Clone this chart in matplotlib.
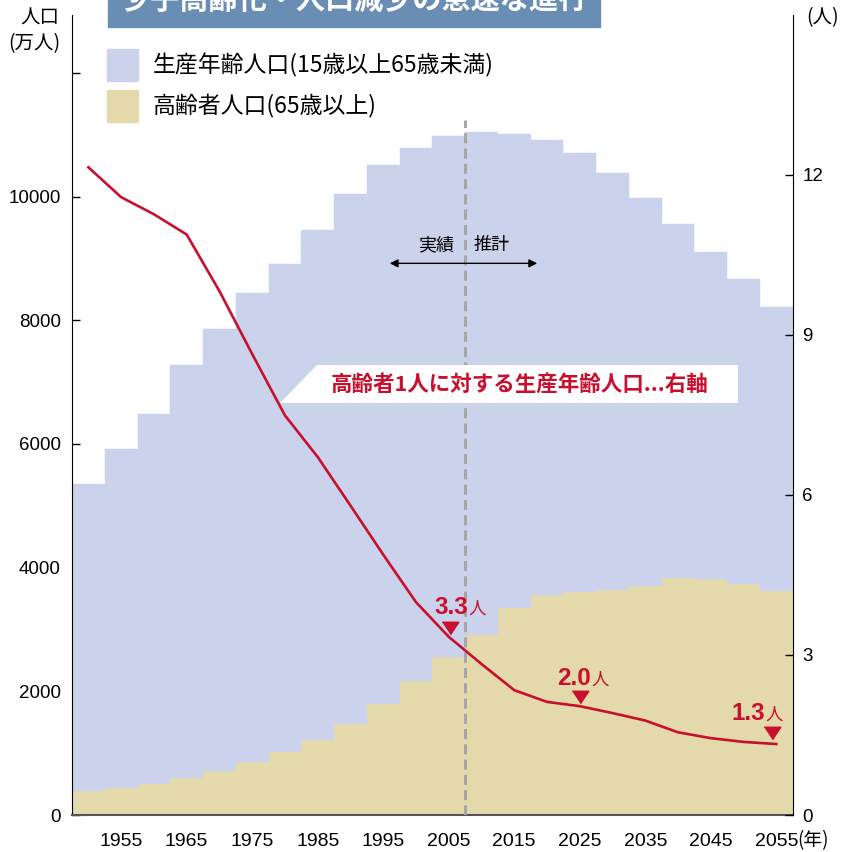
import matplotlib
matplotlib.use('Agg')
import matplotlib.pyplot as plt
from matplotlib.patches import Polygon, Rectangle

plt.rcParams['font.family'] = ['Liberation Sans', 'Noto Sans CJK JP', 'DejaVu Sans']
JP = ['Noto Sans CJK JP', 'DejaVu Sans']

# ---- data (万人 / 人) ----
years = list(range(1950, 2056, 5))
elderly = [383, 443, 507, 593, 706, 857, 1025, 1219, 1471, 1790, 2162, 2550,
           2905, 3347, 3552, 3601, 3638, 3703, 3832, 3811, 3735, 3617]
working = [4964, 5467, 5983, 6678, 7147, 7578, 7890, 8235, 8565, 8715, 8618, 8428,
           8133, 7670, 7357, 7098, 6737, 6268, 5718, 5287, 4926, 4592]
ratio = [12.14, 11.58, 11.26, 10.88, 9.82, 8.64, 7.49, 6.71, 5.80, 4.88, 3.99, 3.34,
         2.83, 2.34, 2.12, 2.04, 1.91, 1.77, 1.55, 1.44, 1.37, 1.33]
xtick_years = list(range(1955, 2056, 10))
left_ticks = [0, 2000, 4000, 6000, 8000, 10000, 12000]
left_tick_labels = ['0', '2000', '4000', '6000', '8000', '10000', '']
right_ticks = [0, 3, 6, 9, 12]
callouts = [(2005, '3.3'), (2025, '2.0'), (2055, '1.3')]

BLUE = '#cad3eb'
TAN = '#e4d9ab'
RED = '#c8102e'
GRAY = '#a6a6a6'

fig = plt.figure(figsize=(8.45, 8.52), dpi=100)
ax = fig.add_axes([72/845, (852-815)/852, 720.7/845, 800.3/852])

ax.bar(years, elderly, width=5, color=TAN, edgecolor=TAN, linewidth=0.3, zorder=2)
ax.bar(years, working, bottom=elderly, width=5, color=BLUE, edgecolor=BLUE,
       linewidth=0.3, zorder=2)

ax.set_xlim(1947.5, 2057.5)
ax.set_ylim(0, 12940)
ax.set_xticks(xtick_years)
ax.set_xticklabels([str(y) for y in xtick_years], family=['Liberation Sans Narrow', 'Liberation Sans'])
ax.set_yticks(left_ticks)
ax.set_yticklabels(left_tick_labels)
ax.tick_params(axis='y', direction='in', length=6, width=1, pad=8, labelsize=13.5)
ax.tick_params(axis='x', length=0, pad=13, labelsize=14)
for s in ['top', 'right']:
    ax.spines[s].set_visible(False)
ax.spines['bottom'].set_color('#555555')
ax.spines['bottom'].set_linewidth(1.5)

# divider between actual and projection
ax.plot([2007.5, 2007.5], [0, 11230], color=GRAY, lw=2.2, dashes=(3.3, 1.7), zorder=3)
ax.annotate('', xy=(1996.0, 8920), xytext=(2018.5, 8920),
            arrowprops=dict(arrowstyle='<|-|>', color='black', lw=1.0,
                            mutation_scale=12, shrinkA=0, shrinkB=0), zorder=4)
ax.text(2003.1, 9210, '実績', ha='center', va='center', fontsize=13, family=JP)
ax.text(2011.6, 9210, '推計', ha='center', va='center', fontsize=13, family=JP)

# legend
ax.add_patch(Rectangle((0.0486, 0.917), 0.043, 0.040, transform=ax.transAxes,
                       color=BLUE, clip_on=False, zorder=5))
ax.add_patch(Rectangle((0.0486, 0.866), 0.043, 0.040, transform=ax.transAxes,
                       color=TAN, clip_on=False, zorder=5))
ax.text(0.1124, 0.937, '生産年齢人口(15歳以上65歳未満)', transform=ax.transAxes,
        ha='left', va='center', fontsize=16.5, family=JP)
ax.text(0.1124, 0.886, '高齢者人口(65歳以上)', transform=ax.transAxes,
        ha='left', va='center', fontsize=16.5, family=JP)

# right axis: ratio
ax2 = ax.twinx()
ax2.set_ylim(0, 15)
ax2.set_yticks(right_ticks)
ax2.tick_params(axis='y', direction='in', length=6, width=1, pad=7, labelsize=13.5)
for s in ['top', 'left', 'bottom']:
    ax2.spines[s].set_visible(False)

ax2.add_patch(Polygon([(0.340, 0.5623), (0.924, 0.5623), (0.924, 0.5148), (0.2886, 0.5148)],
                      closed=True, transform=ax2.transAxes, facecolor='white',
                      edgecolor='none', zorder=4))
ax2.text(0.621, 0.5385, '高齢者1人に対する生産年齢人口...右軸', transform=ax2.transAxes,
         ha='center', va='center', fontsize=15.5, fontweight='bold', color=RED,
         family=JP, zorder=6)

ax2.plot(years, ratio, color=RED, lw=1.9, zorder=5, solid_joinstyle='miter')

tri = [(-1, 0.75), (1, 0.75), (0, -0.75)]
tri_pos = {2005: (2005.2, 3.51), 2025: (2025.0, 2.21), 2055: (2054.4, 1.53)}
txt_pos = {2005: (2007.94, 3.775), 2025: (2026.71, 2.443), 2055: (2053.27, 1.787)}
for yr, lab in callouts:
    tx, ty = tri_pos[yr]
    ax2.plot([tx], [ty], marker=tri, markersize=12, color=RED, linestyle='none', zorder=6)
    lx, ly = txt_pos[yr]
    ax2.text(lx, ly, lab, ha='right', va='baseline', fontsize=17.5, fontweight='bold',
             color=RED, zorder=6)
    ax2.text(lx, ly, '人', ha='left', va='baseline', fontsize=12.5, color=RED,
             family=JP, zorder=6)

# axis unit labels
fig.text(40/845, 1-18/852, '人口', ha='center', va='center', fontsize=14, family=JP)
fig.text(34/845, 1-44/852, '(万人)', ha='center', va='center', fontsize=14, family=JP)
fig.text(823/845, 1-18/852, '(人)', ha='center', va='center', fontsize=14, family=JP)
fig.text(797/845, 1-841/852, '(年)', ha='left', va='center', fontsize=13.5, family=JP)

# title banner (cut off at top, as in the reference)
fig.patches.append(Rectangle((108/845, 1-27/852), 492/845, 27/852,
                             transform=fig.transFigure, color='#6a8db4', zorder=0))
fig.text(354/845, 1.0, '少子高齢化・人口減少の急速な進行', ha='center', va='center',
         color='white', fontsize=21, fontweight='bold', family=JP)

fig.savefig('out.png', dpi=100)
